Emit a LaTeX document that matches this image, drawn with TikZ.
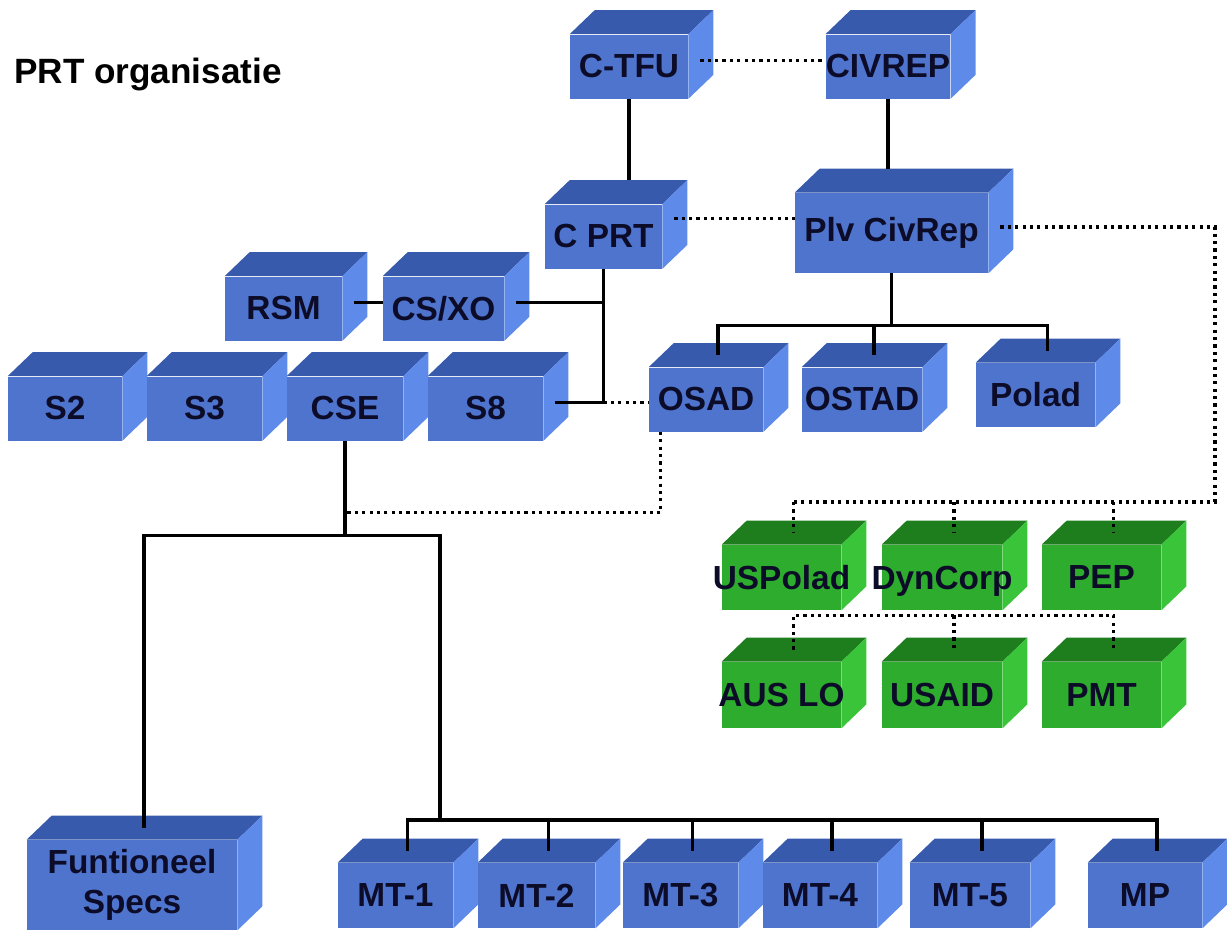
\documentclass[tikz,border=0pt]{standalone}
\usepackage{fontspec}
\setmainfont{Liberation Sans}
\usetikzlibrary{calc, backgrounds}
\definecolor{bluefront}{RGB}{78,116,206}
\definecolor{bluetop}{RGB}{56,90,172}
\definecolor{blueside}{RGB}{94,138,234}
\definecolor{greenfront}{RGB}{46,172,46}
\definecolor{greentop}{RGB}{30,126,30}
\definecolor{greenside}{RGB}{58,196,58}
\definecolor{labeltext}{RGB}{12,12,40}
\tikzset{
  boxsize/.style 2 args={minimum width=#1*0.02cm, minimum height=#2*0.02cm},
  cube/.style={rectangle, inner sep=0pt, fill=bluefront, boxsize={118}{64}, align=center,
    font=\fontsize{19}{22.7}\selectfont\bfseries, text=labeltext},
  greencube/.style={cube, fill=greenfront},
  link/.style={line width=1.8pt, black},
  dotlink/.style={line width=1.8pt, black, dash pattern=on 1.8pt off 2.4pt},
}
\begin{document}
\begin{tikzpicture}[x=0.02cm, y=-0.02cm]
    \useasboundingbox (0,0) rectangle (1227,930);
    % Titel
    \node[anchor=west, font=\fontsize{20}{24}\selectfont\bfseries] (titel) at (8,74) {PRT organisatie};

    % Top
    \node[cube] (ctfu) at (629,66.5) {C-TFU};
    \node[cube, boxsize={120}{64}] (civrep) at (888,66.5) {CIVREP};
    \node[cube, boxsize={117}{64}] (cprt) at (603.5,236.5) {C PRT};
    \node[cube, boxsize={193}{80}] (plv) at (891.5,233) {Plv CivRep};

    % Staf
    \node[cube, boxsize={117}{64}] (rsm) at (283.5,308.5) {RSM};
    \node[cube, boxsize={121}{64}] (csxo) at (443.5,308.5) {CS/XO};
    \node[cube, boxsize={114}{64}] (s2) at (65,408.5) {S2};
    \node[cube, boxsize={115}{64}] (s3) at (204.5,408.5) {S3};
    \node[cube, boxsize={116}{64}] (cse) at (345,408.5) {CSE};
    \node[cube, boxsize={115}{64}] (s8) at (485.5,408.5) {S8};

    % Adviseurs
    \node[cube, boxsize={114}{64}] (osad) at (706,399.5) {OSAD};
    \node[cube, boxsize={120}{64}] (ostad) at (862,399.5) {\makebox[0pt]{OSTAD}};
    \node[cube, boxsize={119}{64}] (polad) at (1035.5,395) {Polad};

    % Civiele partners
    \node[greencube, boxsize={119}{65}] (uspolad) at (781.5,577.5) {\makebox[0pt]{USPolad}};
    \node[greencube, boxsize={120}{65}, text depth=0pt] (dyncorp) at (942,577.5) {\makebox[0pt]{DynCorp}};
    \node[greencube, boxsize={119}{65}] (pep) at (1101.5,577.5) {PEP};
    \node[greencube, boxsize={119}{66}] (auslo) at (781.5,695) {\makebox[0pt]{AUS LO}};
    \node[greencube, boxsize={120}{66}] (usaid) at (942,695) {USAID};
    \node[greencube, boxsize={119}{66}] (pmt) at (1101.5,695) {PMT};

    % Onderste rij
    \node[cube, boxsize={210}{90}] (funspecs) at (132,885) {Funtioneel\\Specs};
    \node[cube, boxsize={115}{65}] (mt1) at (395.5,895.5) {MT-1};
    \node[cube, boxsize={117}{65}] (mt2) at (536.5,895.5) {MT-2};
    \node[cube, boxsize={115}{65}] (mt3) at (680.5,895.5) {MT-3};
    \node[cube, boxsize={114}{65}] (mt4) at (820,895.5) {MT-4};
    \node[cube, boxsize={120}{65}] (mt5) at (970,895.5) {MT-5};
    \node[cube, boxsize={114}{65}] (mp) at (1145,895.5) {MP};

    % Boven- en zijvlakken
    \begin{pgfonlayer}{background}
    \foreach \n/\col in {ctfu/blue, civrep/blue, cprt/blue, plv/blue, rsm/blue, csxo/blue,
        s2/blue, s3/blue, cse/blue, s8/blue, osad/blue, ostad/blue, polad/blue,
        uspolad/green, dyncorp/green, pep/green, auslo/green, usaid/green, pmt/green,
        funspecs/blue, mt1/blue, mt2/blue, mt3/blue, mt4/blue, mt5/blue, mp/blue} {
      \fill[\col top] (\n.north west) -- ([shift={(25,-24)}]\n.north west)
        -- ([shift={(25,-24)}]\n.north east) -- (\n.north east) -- cycle;
      \fill[\col side] (\n.north east) -- ([shift={(25,-24)}]\n.north east)
        -- ([shift={(25,-24)}]\n.south east) -- (\n.south east) -- cycle;
      \coordinate (\n-t) at ([shift={(12,-12)}]\n.north);
      \coordinate (\n-r) at ([shift={(12,-6)}]\n.east);
      \coordinate (\n-b) at ([shift={(25,-24)}]\n.north);
    }
    \end{pgfonlayer}

    % Hulppunten
    \coordinate (plvfork) at ([shift={(0,52)}]plv.south);
    \coordinate (csedot) at ([shift={(0,72)}]cse.south);
    \coordinate (csefork) at ([shift={(0,95)}]cse.south);
    \coordinate (mtfork) at (440,820);
    \coordinate (eastbus) at (1215,502);
    \coordinate (greenbus) at ([shift={(0,5)}]pep.south);

    % Lijnen
    \draw[dotlink] (ctfu-r) -- (civrep.west |- ctfu-r);
    \draw[link] (ctfu.south) -- (ctfu.south |- cprt-b);
    \draw[link] (civrep.south) -- (civrep.south |- plv-b);
    \draw[dotlink] ([shift={(12,-18)}]cprt.east) coordinate (cprtdot) -- (plv.west |- cprtdot);

    \draw[link] (rsm-r) -- (csxo.west |- rsm-r);
    \draw[link] (csxo-r) -- (cprt.south |- csxo-r);
    \draw[link] (cprt.south) -- (cprt.south |- s8-r) -- (s8-r);
    \draw[dotlink] (cprt.south |- s8-r) -- (osad.west |- s8-r);

    \draw[link] (plv.south) -- (plvfork);
    \draw[link] (osad-t) |- (plvfork) -| (polad-t);
    \draw[link] (ostad-t) -- (ostad-t |- plvfork);

    \draw[dotlink] ([shift={(12,0)}]osad.south west) |- (csedot);
    \draw[link] (cse.south) -- (csefork);
    \draw[link] (funspecs-t) |- (csefork) -| (mtfork);
    \draw[link] (mt1-t) |- (mtfork) -| (mp-t);
    \foreach \n in {mt2, mt3, mt4, mt5}
      \draw[link] (\n-t |- mtfork) -- (\n-t);

    \draw[dotlink] (plv-r) -| (eastbus) -- (uspolad-t |- eastbus);
    \foreach \n in {uspolad, dyncorp, pep}
      \draw[dotlink] (\n-t |- eastbus) -- (\n-t);
    \draw[dotlink] (auslo-t) |- (greenbus) -| (pmt-t);
    \draw[dotlink] (usaid-t |- greenbus) -- (usaid-t);
\end{tikzpicture}
\end{document}
